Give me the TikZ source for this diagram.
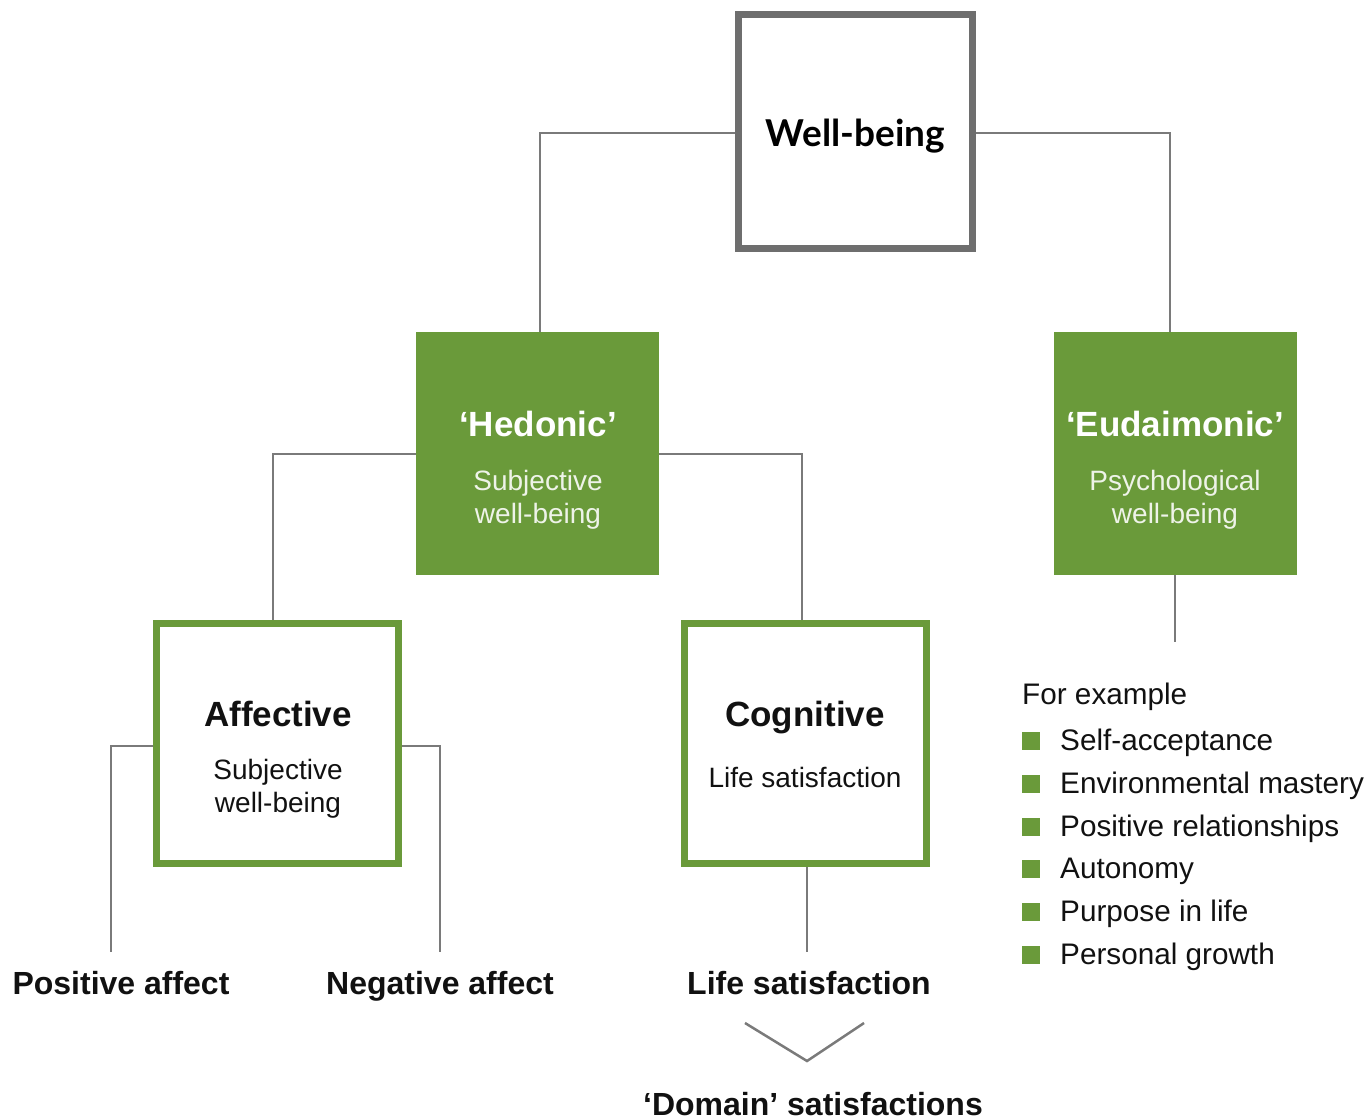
\documentclass[tikz,border=0pt]{standalone}
\usepackage{fontspec}
\setmainfont{Liberation Sans}
\newfontfamily\latofont{Lato}
\definecolor{wbgreen}{HTML}{6A9A3A}
\definecolor{boxgray}{HTML}{6E6E6E}
\definecolor{linegray}{HTML}{7A7A7A}
\definecolor{paletext}{HTML}{EEF3E8}
\definecolor{txt}{HTML}{111111}
\tikzset{
  graybox/.style={draw=boxgray, line width=7pt, minimum width=234pt, minimum height=234pt, inner sep=0pt},
  greenfill/.style={fill=wbgreen, minimum width=243pt, minimum height=243pt, inner sep=0pt},
  greenline/.style={draw=wbgreen, line width=7pt, minimum width=242pt, minimum height=240pt, inner sep=0pt},
  conn/.style={draw=linegray, line width=2pt},
  head/.style={font=\fontsize{35}{40}\selectfont\bfseries, inner sep=0pt, anchor=base},
  sub/.style={font=\fontsize{28}{33}\selectfont, inner sep=0pt, align=center},
  lbl/.style={font=\fontsize{32}{36}\selectfont\bfseries, inner sep=0pt, text=txt, anchor=base},
  item/.style={font=\fontsize{29.7}{34}\selectfont, inner sep=0pt, anchor=base west, text=txt},
  bullet/.style={fill=wbgreen, minimum size=18pt, inner sep=0pt}
}
\begin{document}
\begin{tikzpicture}[x=1pt,y=-1pt]
\useasboundingbox (0,0) rectangle (1370,1118);
% boxes
\node[graybox] (wb) at (855.5,131.5) {};
\node[font=\latofont\fontsize{37}{42}\selectfont\bfseries, inner sep=0pt] (wbt) at (855.5,136) {Well-being};
\node[greenfill] (hed) at (537.5,453.5) {};
\node[greenfill] (eud) at (1175.5,453.5) {};
\node[greenline] (aff) at (277.5,743.5) {};
\node[greenline] (cog) at (805,743.5) {};
% box texts
\node[head, text=white] (hedt) at (538,436) {‘Hedonic’};
\node[sub, text=paletext] (heds) at (538,500) {Subjective\\well-being};
\node[head, text=white] (eudt) at (1175,436) {‘Eudaimonic’};
\node[sub, text=paletext] (euds) at (1175,500) {Psychological\\well-being};
\node[head, text=txt] (afft) at (278,726) {Affective};
\node[sub, text=txt] (affs) at (278,789) {Subjective\\well-being};
\node[head, text=txt] (cogt) at (805,726) {Cognitive};
\node[sub, text=txt] (cogs) at (805,777) {Life satisfaction};
% bottom labels
\node[lbl] (pos) at (121,994) {Positive affect};
\node[lbl] (neg) at (440,994) {Negative affect};
\node[lbl] (ls) at (809,994) {Life satisfaction};
\node[lbl] (dom) at (813,1115) {‘Domain’ satisfactions};
% connector ends
\coordinate (pe) at (111,952);
\coordinate (ne) at (440,952);
\coordinate (le) at (807,952);
\coordinate (ee) at (1175,642);
\coordinate (ca) at (745,1023);
\coordinate (cb) at (807,1061);
\coordinate (cc) at (864,1023);
% connectors
\draw[conn] ([yshift=-1.5pt]wb.west) -| ([xshift=2.5pt]hed.north);
\draw[conn] ([yshift=-1.5pt]wb.east) -| ([xshift=-6pt]eud.north);
\draw[conn] (hed.west) -| ([xshift=-4.5pt]aff.north);
\draw[conn] (hed.east) -| ([xshift=-3pt]cog.north);
\draw[conn] ([yshift=-2.5pt]aff.west) -| (pe);
\draw[conn] ([yshift=-2.5pt]aff.east) -| (ne);
\draw[conn] (cog.south -| le) -- (le);
\draw[conn] (eud.south -| ee) -- (ee);
\draw[conn, line width=2.5pt] (ca) -- (cb) -- (cc);
% example list
\node[item] (fe) at (1022,704) {For example};
\foreach \t [count=\i] in {Self-acceptance,Environmental mastery,Positive relationships,Autonomy,Purpose in life,Personal growth}{
  \node[bullet] (b\i) at (1031,{741+42.8*(\i-1)}) {};
  \node[item] (it\i) at (1060,{750.5+42.8*(\i-1)}) {\t};
}
\end{tikzpicture}
\end{document}
